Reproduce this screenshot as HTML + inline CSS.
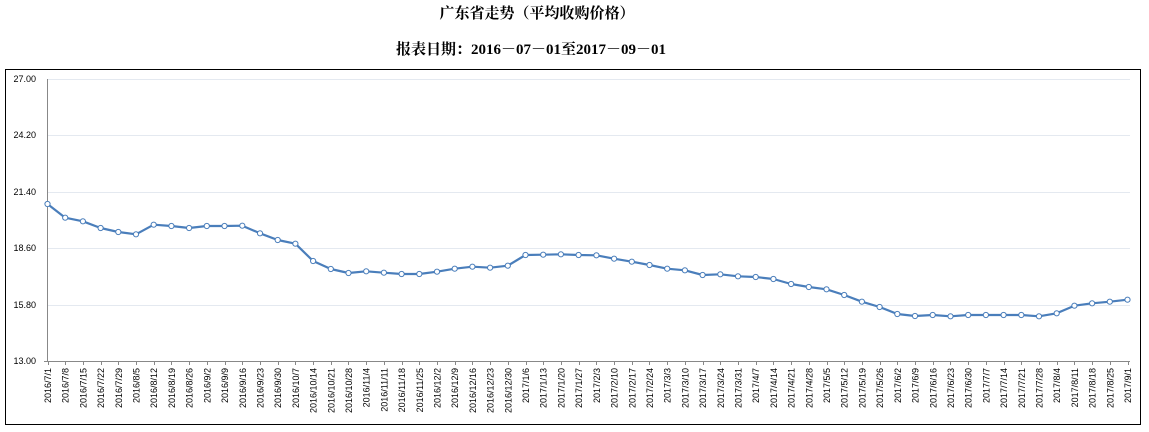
<!DOCTYPE html>
<html><head><meta charset="utf-8"><style>
body{margin:0;background:#fff;width:1149px;height:432px;overflow:hidden}
svg{display:block}
.t{font-family:"Liberation Serif","Noto Serif CJK SC",serif;font-weight:bold;font-size:15px;fill:#000}
.y{font-family:"Liberation Sans",sans-serif;font-size:9px;fill:#000}
.x text{font-family:"Liberation Sans",sans-serif;font-size:9px;fill:#000}
</style></head><body>
<svg width="1149" height="432" viewBox="0 0 1149 432">
<text class="t" x="537" y="18" text-anchor="middle">广东省走势（平均收购价格）</text>
<text class="t" x="531" y="54" text-anchor="middle">报表日期：2016－07－01至2017－09－01</text>
<rect x="5.5" y="69.5" width="1135" height="355" fill="none" stroke="#000" stroke-width="1"/>
<g stroke="#e4e9f0" stroke-width="1">
<line x1="48" x2="1130" y1="79.5" y2="79.5"/><line x1="48" x2="1130" y1="135.5" y2="135.5"/>
<line x1="48" x2="1130" y1="192.5" y2="192.5"/><line x1="48" x2="1130" y1="248.5" y2="248.5"/>
<line x1="48" x2="1130" y1="305.5" y2="305.5"/>
</g>
<g class="y" text-anchor="end">
<text x="36" y="82">27.00</text><text x="36" y="138">24.20</text><text x="36" y="195">21.40</text>
<text x="36" y="251">18.60</text><text x="36" y="308">15.80</text><text x="36" y="364">13.00</text>
</g>
<line x1="47.5" y1="79" x2="47.5" y2="361" stroke="#888"/>
<line x1="44" y1="361.5" x2="1130" y2="361.5" stroke="#888"/>
<g id="ticks" stroke="#888"></g>
<polyline id="ln" fill="none" stroke="#4a7ebb" stroke-width="2.2" stroke-linejoin="round"/>
<g id="mk" fill="#fff" stroke="#4a7ebb" stroke-width="1"></g>
<g class="x" transform="rotate(-90)" text-anchor="end">
<text x="-368" y="51.0">2016/7/1</text>
<text x="-368" y="68.7">2016/7/8</text>
<text x="-368" y="86.4">2016/7/15</text>
<text x="-368" y="104.1">2016/7/22</text>
<text x="-368" y="121.8">2016/7/29</text>
<text x="-368" y="139.5">2016/8/5</text>
<text x="-368" y="157.2">2016/8/12</text>
<text x="-368" y="174.9">2016/8/19</text>
<text x="-368" y="192.6">2016/8/26</text>
<text x="-368" y="210.3">2016/9/2</text>
<text x="-368" y="228.1">2016/9/9</text>
<text x="-368" y="245.8">2016/9/16</text>
<text x="-368" y="263.5">2016/9/23</text>
<text x="-368" y="281.2">2016/9/30</text>
<text x="-368" y="298.9">2016/10/7</text>
<text x="-368" y="316.6">2016/10/14</text>
<text x="-368" y="334.3">2016/10/21</text>
<text x="-368" y="352.0">2016/10/28</text>
<text x="-368" y="369.7">2016/11/4</text>
<text x="-368" y="387.4">2016/11/11</text>
<text x="-368" y="405.1">2016/11/18</text>
<text x="-368" y="422.8">2016/11/25</text>
<text x="-368" y="440.5">2016/12/2</text>
<text x="-368" y="458.2">2016/12/9</text>
<text x="-368" y="475.9">2016/12/16</text>
<text x="-368" y="493.6">2016/12/23</text>
<text x="-368" y="511.3">2016/12/30</text>
<text x="-368" y="529.0">2017/1/6</text>
<text x="-368" y="546.7">2017/1/13</text>
<text x="-368" y="564.4">2017/1/20</text>
<text x="-368" y="582.2">2017/1/27</text>
<text x="-368" y="599.9">2017/2/3</text>
<text x="-368" y="617.6">2017/2/10</text>
<text x="-368" y="635.3">2017/2/17</text>
<text x="-368" y="653.0">2017/2/24</text>
<text x="-368" y="670.7">2017/3/3</text>
<text x="-368" y="688.4">2017/3/10</text>
<text x="-368" y="706.1">2017/3/17</text>
<text x="-368" y="723.8">2017/3/24</text>
<text x="-368" y="741.5">2017/3/31</text>
<text x="-368" y="759.2">2017/4/7</text>
<text x="-368" y="776.9">2017/4/14</text>
<text x="-368" y="794.6">2017/4/21</text>
<text x="-368" y="812.3">2017/4/28</text>
<text x="-368" y="830.0">2017/5/5</text>
<text x="-368" y="847.7">2017/5/12</text>
<text x="-368" y="865.4">2017/5/19</text>
<text x="-368" y="883.1">2017/5/26</text>
<text x="-368" y="900.8">2017/6/2</text>
<text x="-368" y="918.5">2017/6/9</text>
<text x="-368" y="936.3">2017/6/16</text>
<text x="-368" y="954.0">2017/6/23</text>
<text x="-368" y="971.7">2017/6/30</text>
<text x="-368" y="989.4">2017/7/7</text>
<text x="-368" y="1007.1">2017/7/14</text>
<text x="-368" y="1024.8">2017/7/21</text>
<text x="-368" y="1042.5">2017/7/28</text>
<text x="-368" y="1060.2">2017/8/4</text>
<text x="-368" y="1077.9">2017/8/11</text>
<text x="-368" y="1095.6">2017/8/18</text>
<text x="-368" y="1113.3">2017/8/25</text>
<text x="-368" y="1131.0">2017/9/1</text>
</g>
</svg>
<script>
var ys=[204,217.7,221.3,228,232,234.3,224.7,226,228,226,226,225.7,233.3,240,243.7,261,269,273,271.3,272.7,274,274,271.7,268.7,266.7,267.7,265.7,255,254.7,254.3,255,255.3,258.7,261.7,265,268.7,270.3,275,274.3,276.3,277,279,284,287,289.3,295,301.7,307,314,316,315,316.3,315,315,315,315,316.3,313.3,305.7,303.3,301.7,299.7];
var pts=[],mk='',tk='',n=ys.length,dx=1080/(n-1);
for(var i=0;i<n;i++){var x=47.5+i*dx;pts.push(x.toFixed(1)+','+ys[i]);
mk+='<circle cx="'+x.toFixed(1)+'" cy="'+ys[i]+'" r="2.6"/>';
tk+='<line x1="'+(Math.round(x)+0.5)+'" x2="'+(Math.round(x)+0.5)+'" y1="361" y2="365"/>';}
document.getElementById('ln').setAttribute('points',pts.join(' '));
document.getElementById('mk').innerHTML=mk;document.getElementById('ticks').innerHTML=tk;
</script>
</body></html>
